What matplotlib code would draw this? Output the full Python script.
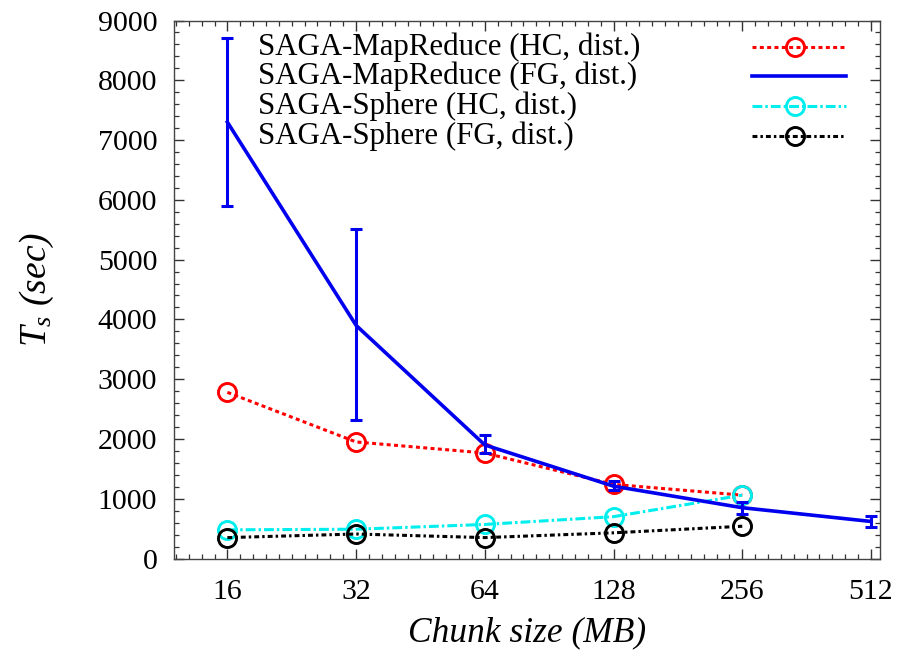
import numpy as np
import matplotlib
matplotlib.use("Agg")
import matplotlib.pyplot as plt
from matplotlib.ticker import FixedLocator, MultipleLocator, NullFormatter

plt.rcParams['font.family'] = ['Liberation Serif', 'DejaVu Serif']
plt.rcParams['mathtext.fontset'] = 'custom'
plt.rcParams['mathtext.it'] = 'Liberation Serif:italic'
plt.rcParams['mathtext.rm'] = 'Liberation Serif'

# Data
chunk = [16, 32, 64, 128, 256, 512]
chunk5 = [16, 32, 64, 128, 256]
mr_hc = [2780, 1950, 1765, 1240, 1060]
mr_fg = [7300, 3900, 1900, 1210, 850, 620]
mr_fg_lo = [5900, 2310, 1770, 1150, 750, 525]
mr_fg_hi = [8700, 5520, 2070, 1300, 940, 705]
sp_hc = [480, 490, 570, 700, 1060]
sp_fg = [350, 410, 350, 430, 540]
labels = ["SAGA-MapReduce (HC, dist.)", "SAGA-MapReduce (FG, dist.)",
          "SAGA-Sphere (HC, dist.)", "SAGA-Sphere (FG, dist.)"]
xticks = [16, 32, 64, 128, 256, 512]

fig = plt.figure(figsize=(8.99, 6.55), dpi=100)
ax = fig.add_axes([0.1935, 0.1473, 0.7854, 0.8214])

ms = 13
mew = 2.1
lw = 2.2

RED = '#ff0000'
BLUE = '#0000ee'
CYAN = '#00eeee'
BLACK = '#000000'

styles = [
    dict(color=RED, lw=lw, linestyle=(0, (1.3, 1.1)), marker='o', ms=ms,
         mfc='none', mec=RED, mew=mew),
    dict(color=BLUE, lw=2.6, linestyle='-'),
    dict(color=CYAN, lw=lw, linestyle=(0, (3.2, 1.0, 0.8, 1.0)), marker='o', ms=ms,
         mfc='none', mec=CYAN, mew=mew),
    dict(color=BLACK, lw=lw, linestyle=(0, (1.6, 1.0, 0.8, 1.0)), marker='o', ms=ms,
         mfc='none', mec=BLACK, mew=mew),
]

yerr = [np.array(mr_fg) - np.array(mr_fg_lo), np.array(mr_fg_hi) - np.array(mr_fg)]

ax.plot(chunk5, mr_hc, **styles[0], zorder=3)
ax.errorbar(chunk, mr_fg, yerr=yerr, color=BLUE, lw=2.6, elinewidth=2.2,
            capsize=4, capthick=2.2, zorder=4)
ax.plot(chunk5, sp_hc, **styles[2], zorder=3)
ax.plot(chunk5, sp_fg, **styles[3], zorder=3)

ax.set_xscale('log', base=2)
ax.set_xlim(12.0, 537.6)
ax.set_ylim(0, 9000)

ax.xaxis.set_major_locator(FixedLocator(xticks))
ax.set_xticklabels([str(v) for v in xticks])
minor = []
for k in range(-1, 6):
    for j in range(1, 10):
        minor.append(2 ** (4 + k + j / 10.0))
ax.xaxis.set_minor_locator(FixedLocator(minor))
ax.xaxis.set_minor_formatter(NullFormatter())
ax.yaxis.set_major_locator(MultipleLocator(1000))
ax.yaxis.set_minor_locator(MultipleLocator(200))

ax.tick_params(which='both', direction='in', top=True, right=True, labelsize=21.5)
ax.tick_params(which='major', length=7, width=1.0, color='#333333')
ax.tick_params(which='minor', length=3.5, width=0.9, color='#333333')
ax.tick_params(axis='x', pad=15)
ax.tick_params(axis='y', pad=12)

for s in ax.spines.values():
    s.set_linewidth(1.0)
    s.set_color('#444444')

ax.set_xlabel('Chunk size (MB)', fontsize=25.5, style='italic', labelpad=8)
ax.set_ylabel(r'$T_s$ (sec)', fontsize=27, style='italic', labelpad=30)

# gnuplot-style key: left-justified labels, samples on the right
row_y = [0.9507, 0.8968, 0.8411, 0.7853]
tx = 0.119
hx0, hx1 = 0.8187, 0.9518
for i, (lab, st) in enumerate(zip(labels, styles)):
    y = row_y[i]
    ax.text(tx, y, lab, transform=ax.transAxes, fontsize=22.2, ha='left', va='center')
    line_kw = {k: v for k, v in st.items() if k not in ('marker', 'ms', 'mfc', 'mec', 'mew')}
    ax.plot([hx0, hx1], [y, y], transform=ax.transAxes, clip_on=False, **line_kw)
    if 'marker' in st:
        ax.plot([(hx0 + hx1) / 2 - 0.005], [y], transform=ax.transAxes, clip_on=False,
                linestyle='none', marker='o', ms=ms, mfc='none', mec=st['mec'], mew=mew)

fig.savefig('out.png', dpi=100)
